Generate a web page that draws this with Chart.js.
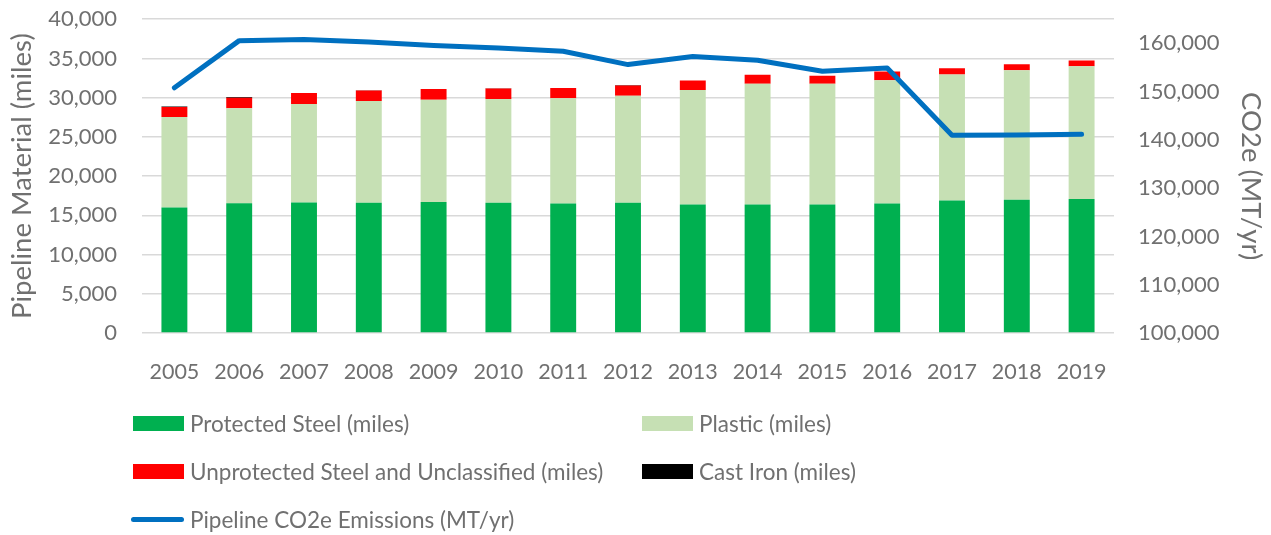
<!DOCTYPE html>
<html>
<head>
<meta charset="utf-8">
<script src="https://cdn.jsdelivr.net/npm/chart.js@4/dist/chart.umd.min.js"></script>
<style>
  body { margin: 0; background: #fff; overflow: hidden; }
  #wrap { position: relative; width: 1271px; height: 535px; overflow: hidden; }
  #chart { position: absolute; left: 0; top: -19px; }
  #legend { position: absolute; left: 0; top: 0; width: 1271px; height: 535px; pointer-events: none;
            font-family: Lato, "Open Sans", sans-serif; font-size: 22.5px; color: #707070; }
  .item { position: absolute; display: flex; align-items: center; white-space: nowrap; }
  .swatch { width: 51px; height: 15px; margin-right: 6px; }
  .swatch.line { height: 5px; border-radius: 3px; margin-right: 6px; }
</style>
</head>
<body>
<div id="wrap">
  <canvas id="chart" width="1271" height="554"></canvas>
  <div id="legend"></div>
</div>
<script>
// chart data
const years = ['2005', '2006', '2007', '2008', '2009', '2010', '2011', '2012', '2013', '2014', '2015', '2016', '2017', '2018', '2019'];
const protectedSteel = [16000, 16540, 16620, 16600, 16700, 16600, 16500, 16600, 16370, 16370, 16370, 16500, 16880, 17000, 17090];
const plastic = [11540, 12100, 12570, 12970, 13040, 13220, 13410, 13640, 14590, 15400, 15400, 15730, 16070, 16500, 16920];
const unprotected = [1270, 1350, 1390, 1350, 1350, 1360, 1310, 1320, 1230, 1140, 1010, 1110, 810, 760, 720];
const castIron = [70, 90, 20, 20, 20, 20, 20, 40, 0, 0, 0, 0, 0, 0, 0];
const emissions = [150780, 160560, 160820, 160270, 159530, 159040, 158350, 155600, 157260, 156490, 154230, 154910, 140970, 141030, 141180];
const leftTicks = [0, 5000, 10000, 15000, 20000, 25000, 30000, 35000, 40000];
const rightTicks = [100000, 110000, 120000, 130000, 140000, 150000, 160000];

const textColor = '#707070';
const fontFamily = 'Lato, "Open Sans", sans-serif';
const fmt = v => Number(v).toLocaleString('en-US');

const barSets = [
    { label: 'Protected Steel (miles)', data: protectedSteel, color: '#00B050' },
    { label: 'Plastic (miles)', data: plastic, color: '#C6E0B4' },
    { label: 'Unprotected Steel and Unclassified (miles)', data: unprotected, color: '#FF0000' },
    { label: 'Cast Iron (miles)', data: castIron, color: '#000000' }
];
const lineSet = { label: 'Pipeline CO2e Emissions (MT/yr)', data: emissions, color: '#0070C0' };

const datasets = barSets.map(s => ({
    type: 'bar',
    label: s.label,
    data: s.data,
    backgroundColor: s.color,
    yAxisID: 'y',
    stack: 'pipe',
    order: 1,
    barPercentage: 0.4,
    categoryPercentage: 1.0
}));
datasets.push({
    type: 'line',
    label: lineSet.label,
    data: lineSet.data,
    borderColor: lineSet.color,
    backgroundColor: lineSet.color,
    borderWidth: 5,
    pointRadius: 0,
    tension: 0,
    borderCapStyle: 'round',
    borderJoinStyle: 'round',
    yAxisID: 'y1',
    order: 0
});

// canvas sits 19px above the page top, so the plot spans y 18..333 on the page
new Chart(document.getElementById('chart'), {
    type: 'bar',
    data: { labels: years, datasets: datasets },
    options: {
        responsive: false,
        animation: false,
        layout: { padding: 0 },
        plugins: { legend: { display: false }, tooltip: { enabled: false } },
        scales: {
            x: {
                stacked: true,
                grid: { display: false },
                border: { display: false },
                ticks: { color: textColor, font: { family: fontFamily, size: 21.5 }, padding: 18, maxRotation: 0 },
                afterFit: s => { s.height = 202; }
            },
            y: {
                position: 'left',
                stacked: true,
                min: 0,
                max: 40000,
                afterBuildTicks: s => { s.ticks = leftTicks.map(v => ({ value: v })); },
                ticks: { color: textColor, font: { family: fontFamily, size: 22 }, padding: 25, callback: fmt },
                grid: { color: '#D9D9D9', lineWidth: 1.5, drawTicks: false },
                border: { display: false },
                title: { display: true, text: 'Pipeline Material (miles)', color: textColor,
                         font: { family: fontFamily, size: 27.5 }, padding: { top: 6, bottom: 0 } },
                afterFit: s => { s.width = 142; }
            },
            y1: {
                position: 'right',
                stacked: false,
                min: 100000,
                max: 165000,
                afterBuildTicks: s => { s.ticks = rightTicks.map(v => ({ value: v })); },
                ticks: { color: textColor, font: { family: fontFamily, size: 22 }, padding: 24, callback: fmt },
                grid: { display: false, drawTicks: false },
                border: { display: false },
                title: { display: true, text: 'CO2e (MT/yr)', color: textColor,
                         font: { family: fontFamily, size: 27.5 }, padding: { top: 4, bottom: 0 } },
                afterFit: s => { s.width = 157; }
            }
        }
    }
});

// legend laid out in two columns like the original
const legend = document.getElementById('legend');
const slots = [
    { x: 133, y: 423 }, { x: 642, y: 423 },
    { x: 133, y: 471 }, { x: 642, y: 471 },
    { x: 131, y: 519 }
];
barSets.concat([lineSet]).forEach((s, i) => {
    const item = document.createElement('div');
    item.className = 'item';
    item.style.left = slots[i].x + 'px';
    item.style.top = (slots[i].y - 14) + 'px';
    item.style.height = '28px';
    const sw = document.createElement('span');
    sw.className = 'swatch' + (s === lineSet ? ' line' : '');
    sw.style.background = s.color;
    if (s === lineSet) sw.style.width = '53px';
    const txt = document.createElement('span');
    txt.textContent = s.label;
    item.appendChild(sw);
    item.appendChild(txt);
    legend.appendChild(item);
});
</script>
</body>
</html>
